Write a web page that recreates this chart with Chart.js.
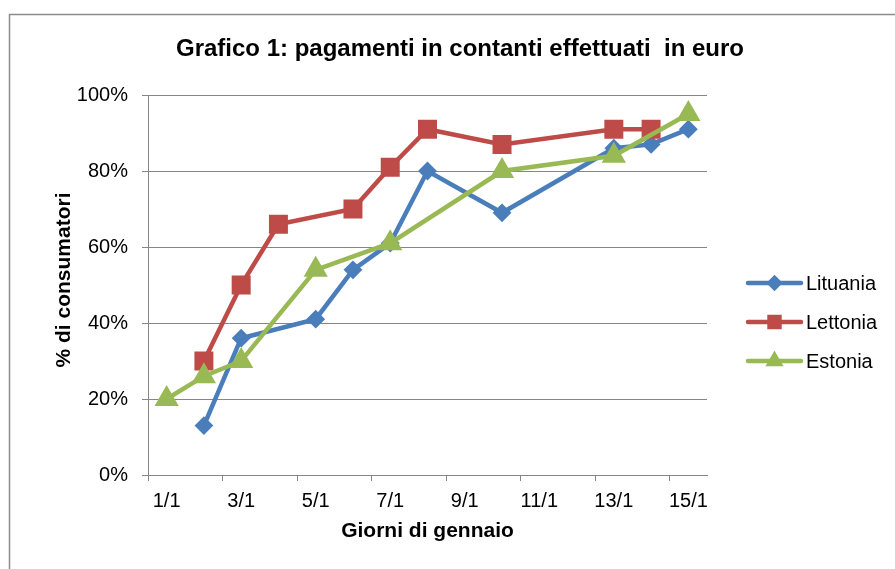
<!DOCTYPE html>
<html>
<head>
<meta charset="utf-8">
<script src="https://cdn.jsdelivr.net/npm/chart.js@4/dist/chart.umd.min.js"></script>
<style>
html,body{margin:0;padding:0;background:#fff;}
#wrap{width:895px;height:569px;position:relative;}
</style>
</head>
<body>
<div id="wrap"><canvas id="c" width="895" height="569"></canvas></div>
<script>
const days = ['1/1','2/1','3/1','4/1','5/1','6/1','7/1','8/1','9/1','10/1','11/1','12/1','13/1','14/1','15/1'];
const lituania = [null,13,36,null,41,54,61,80,null,69,null,null,86,87,91];
const lettonia = [null,30,50,66,null,70,81,91,null,87,null,null,91,91,null];
const estonia  = [20,26,30,null,54,null,61,null,null,80,null,null,84,null,95];
const yTicks = [0,20,40,60,80,100];
const seriesNames = ['Lituania','Lettonia','Estonia'];
const seriesColors = ['#4A7EBB','#BE4B48','#98B954'];
const seriesMarkers = ['rectRot','rect','triangle'];
const chartTitle = 'Grafico 1: pagamenti in contanti effettuati  in euro';
const xTitle = 'Giorni di gennaio';
const yTitle = '% di consumatori';

Chart.defaults.font.family = "'Liberation Sans', Arial, sans-serif";
Chart.defaults.color = '#000';

const GRID = '#868686';

const decor = {
  id: 'decor',
  beforeDraw(chart) {
    const ctx = chart.ctx;
    ctx.save();
    ctx.fillStyle = '#fff';
    ctx.fillRect(0, 0, chart.width, chart.height);
    ctx.strokeStyle = '#8c8c8c';
    ctx.lineWidth = 1.5;
    ctx.beginPath();
    ctx.moveTo(9.5, chart.height);
    ctx.lineTo(9.5, 14.5);
    ctx.lineTo(chart.width, 14.5);
    ctx.stroke();
    ctx.restore();
  },
  afterDraw(chart) {
    const ctx = chart.ctx;
    ctx.save();
    // main title
    ctx.fillStyle = '#000';
    ctx.font = "bold 24px 'Liberation Sans', Arial, sans-serif";
    ctx.textAlign = 'center';
    ctx.textBaseline = 'middle';
    ctx.fillText(chartTitle, 460, 49);
    // y axis title
    ctx.save();
    ctx.translate(64, 280);
    ctx.rotate(-Math.PI / 2);
    ctx.font = "bold 21px 'Liberation Sans', Arial, sans-serif";
    ctx.fillText(yTitle, 0, 0);
    ctx.restore();
    // legend
    chart.data.datasets.forEach((ds, i) => {
      const y = 283 + 39 * i;
      ctx.strokeStyle = ds.borderColor;
      ctx.lineWidth = 4.5;
      ctx.lineCap = 'round';
      ctx.beginPath();
      ctx.moveTo(748, y);
      ctx.lineTo(801, y);
      ctx.stroke();
      ctx.fillStyle = ds.borderColor;
      ctx.strokeStyle = ds.borderColor;
      const r = ds.pointStyle === 'rect' ? 7 : (ds.pointStyle === 'triangle' ? 6 : 5);
      Chart.helpers.drawPoint(ctx, {pointStyle: ds.pointStyle, radius: r, rotation: 0, borderWidth: 1}, 774.5, y);
      ctx.fillStyle = '#000';
      ctx.font = "20px 'Liberation Sans', Arial, sans-serif";
      ctx.textAlign = 'left';
      ctx.textBaseline = 'middle';
      ctx.fillText(ds.label, 806, y + 1);
    });
    ctx.restore();
  }
};

const seriesData = [lituania, lettonia, estonia];
const radii = [8, 12, 12];
const datasets = seriesNames.map((name, i) => ({
  label: name,
  data: seriesData[i],
  borderColor: seriesColors[i],
  backgroundColor: seriesColors[i],
  pointBackgroundColor: seriesColors[i],
  pointBorderColor: seriesColors[i],
  pointStyle: seriesMarkers[i],
  pointRadius: radii[i],
  pointBorderWidth: 2,
  borderWidth: 4.5,
  spanGaps: true,
  tension: 0,
  order: 2 - i
}));

new Chart(document.getElementById('c'), {
  type: 'line',
  data: { labels: days, datasets },
  plugins: [decor],
  options: {
    responsive: false,
    animation: false,
    layout: { padding: { top: 95, left: 0, right: 188, bottom: 0 } },
    plugins: { legend: { display: false }, title: { display: false }, tooltip: { enabled: false } },
    scales: {
      x: {
        type: 'category',
        offset: true,
        grid: {
          offset: true,
          drawOnChartArea: false,
          drawTicks: true,
          tickLength: 6,
          tickColor: (ctx) => (ctx.type === 'tick' && ctx.index % 2 === 0) ? GRID : 'rgba(0,0,0,0)'
        },
        border: { display: true, color: GRID, width: 1 },
        ticks: {
          autoSkip: false, maxRotation: 0, minRotation: 0, padding: 8,
          font: { size: 20 },
          callback: (v, i) => (i % 2 === 0 ? days[i] : '')
        },
        title: { display: true, text: xTitle, font: { size: 21, weight: 'bold' }, padding: { top: 0, bottom: 25 } },
        afterFit: (s) => { s.height = 94; }
      },
      y: {
        min: 0, max: 100,
        afterBuildTicks: (s) => { s.ticks = yTicks.map(v => ({ value: v })); },
        ticks: { padding: 14, font: { size: 20 }, callback: (v) => v + '%' },
        grid: { color: GRID, tickLength: 6, lineWidth: 1 },
        border: { display: true, color: GRID, width: 1 },
        title: { display: false, text: yTitle },
        afterFit: (s) => { s.width = 148; }
      }
    }
  }
});
</script>
</body>
</html>
